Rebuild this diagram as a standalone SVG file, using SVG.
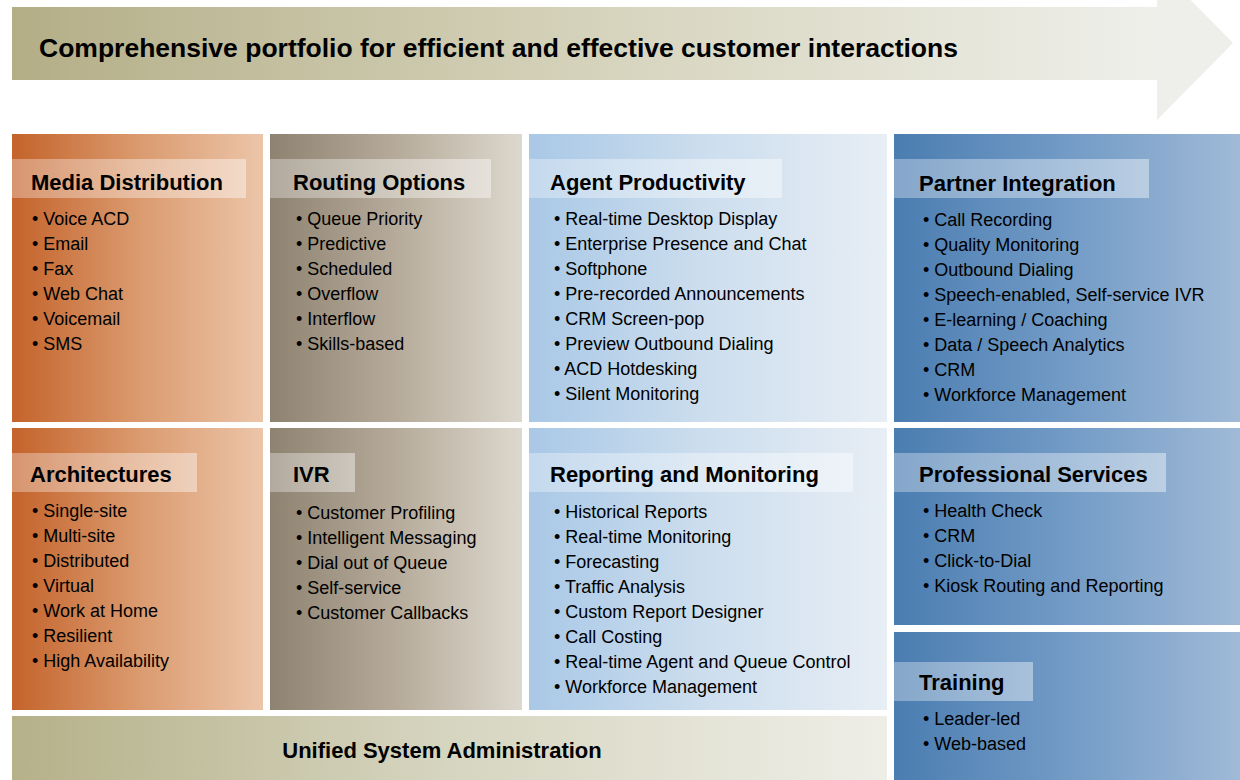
<svg xmlns="http://www.w3.org/2000/svg" width="1240" height="780" viewBox="0 0 1240 780">
<defs>
<linearGradient id="gBand" x1="0" y1="0" x2="1" y2="0">
<stop offset="0" stop-color="#b4ae87"/><stop offset="0.55" stop-color="#d8d6c0"/><stop offset="1" stop-color="#eeefea"/>
</linearGradient>
<linearGradient id="gOrange" x1="0" y1="0" x2="1" y2="0">
<stop offset="0" stop-color="#c4632b"/><stop offset="0.5" stop-color="#da9a6e"/><stop offset="1" stop-color="#ecc5a9"/>
</linearGradient>
<linearGradient id="gBrown" x1="0" y1="0" x2="1" y2="0">
<stop offset="0" stop-color="#8e8271"/><stop offset="0.5" stop-color="#b6ab9a"/><stop offset="1" stop-color="#ddd8ce"/>
</linearGradient>
<linearGradient id="gLight" x1="0" y1="0" x2="1" y2="0">
<stop offset="0" stop-color="#a9c8e6"/><stop offset="0.5" stop-color="#cddeee"/><stop offset="1" stop-color="#e7eef5"/>
</linearGradient>
<linearGradient id="gSteel" x1="0" y1="0" x2="1" y2="0">
<stop offset="0" stop-color="#4b7db1"/><stop offset="0.5" stop-color="#729bc6"/><stop offset="1" stop-color="#a0bad7"/>
</linearGradient>
<linearGradient id="gOlive" x1="0" y1="0" x2="1" y2="0">
<stop offset="0" stop-color="#b5b189"/><stop offset="0.5" stop-color="#d6d5c0"/><stop offset="1" stop-color="#eeeee7"/>
</linearGradient>
<linearGradient id="gStrip" x1="0" y1="0" x2="1" y2="0">
<stop offset="0" stop-color="#ffffff" stop-opacity="0.32"/><stop offset="1" stop-color="#ffffff" stop-opacity="0.42"/>
</linearGradient>
</defs>
<style>
.t{font-family:"Liberation Sans",Arial,sans-serif;fill:#000;}
.title{font-size:26px;font-weight:bold;}
.h{font-size:22px;font-weight:bold;}
.i{font-size:18px;}
.strip{fill:url(#gStrip);}
</style>
<rect width="1240" height="780" fill="#ffffff"/>

<g id="banner">
<polygon points="1157,-34 1233,43 1157,120" fill="#eeefea"/>
<rect x="12" y="7" width="1146" height="73" fill="url(#gBand)"/>
<text class="t title" x="39" y="57" textLength="919" lengthAdjust="spacingAndGlyphs">Comprehensive portfolio for efficient and effective customer interactions</text>
</g>

<g id="media-distribution">
<rect x="12" y="134" width="251" height="288" fill="url(#gOrange)"/>
<rect class="strip" x="12" y="159" width="234" height="39"/>
<text class="t h" x="31" y="190">Media Distribution</text>
<text class="t i" x="32" y="225">• Voice ACD</text>
<text class="t i" x="32" y="250">• Email</text>
<text class="t i" x="32" y="275">• Fax</text>
<text class="t i" x="32" y="300">• Web Chat</text>
<text class="t i" x="32" y="325">• Voicemail</text>
<text class="t i" x="32" y="350">• SMS</text>
</g>

<g id="routing-options">
<rect x="270" y="134" width="252" height="288" fill="url(#gBrown)"/>
<rect class="strip" x="270" y="159" width="221" height="39"/>
<text class="t h" x="293" y="190">Routing Options</text>
<text class="t i" x="296" y="225">• Queue Priority</text>
<text class="t i" x="296" y="250">• Predictive</text>
<text class="t i" x="296" y="275">• Scheduled</text>
<text class="t i" x="296" y="300">• Overflow</text>
<text class="t i" x="296" y="325">• Interflow</text>
<text class="t i" x="296" y="350">• Skills-based</text>
</g>

<g id="agent-productivity">
<rect x="529" y="134" width="358" height="288" fill="url(#gLight)"/>
<rect class="strip" x="529" y="159" width="253" height="39"/>
<text class="t h" x="550" y="190">Agent Productivity</text>
<text class="t i" x="554" y="225">• Real-time Desktop Display</text>
<text class="t i" x="554" y="250">• Enterprise Presence and Chat</text>
<text class="t i" x="554" y="275">• Softphone</text>
<text class="t i" x="554" y="300">• Pre-recorded Announcements</text>
<text class="t i" x="554" y="325">• CRM Screen-pop</text>
<text class="t i" x="554" y="350">• Preview Outbound Dialing</text>
<text class="t i" x="554" y="375">• ACD Hotdesking</text>
<text class="t i" x="554" y="400">• Silent Monitoring</text>
</g>

<g id="partner-integration">
<rect x="894" y="134" width="346" height="288" fill="url(#gSteel)"/>
<rect class="strip" x="894" y="159" width="255" height="39"/>
<text class="t h" x="919" y="191">Partner Integration</text>
<text class="t i" x="923" y="226">• Call Recording</text>
<text class="t i" x="923" y="251">• Quality Monitoring</text>
<text class="t i" x="923" y="276">• Outbound Dialing</text>
<text class="t i" x="923" y="301">• Speech-enabled, Self-service IVR</text>
<text class="t i" x="923" y="326">• E-learning / Coaching</text>
<text class="t i" x="923" y="351">• Data / Speech Analytics</text>
<text class="t i" x="923" y="376">• CRM</text>
<text class="t i" x="923" y="401">• Workforce Management</text>
</g>

<g id="architectures">
<rect x="12" y="428" width="251" height="282" fill="url(#gOrange)"/>
<rect class="strip" x="12" y="453" width="185" height="39"/>
<text class="t h" x="30" y="482">Architectures</text>
<text class="t i" x="32" y="517">• Single-site</text>
<text class="t i" x="32" y="542">• Multi-site</text>
<text class="t i" x="32" y="567">• Distributed</text>
<text class="t i" x="32" y="592">• Virtual</text>
<text class="t i" x="32" y="617">• Work at Home</text>
<text class="t i" x="32" y="642">• Resilient</text>
<text class="t i" x="32" y="667">• High Availability</text>
</g>

<g id="ivr">
<rect x="270" y="428" width="252" height="282" fill="url(#gBrown)"/>
<rect class="strip" x="270" y="453" width="85" height="39"/>
<text class="t h" x="293" y="482">IVR</text>
<text class="t i" x="296" y="519">• Customer Profiling</text>
<text class="t i" x="296" y="544">• Intelligent Messaging</text>
<text class="t i" x="296" y="569">• Dial out of Queue</text>
<text class="t i" x="296" y="594">• Self-service</text>
<text class="t i" x="296" y="619">• Customer Callbacks</text>
</g>

<g id="reporting-monitoring">
<rect x="529" y="428" width="358" height="282" fill="url(#gLight)"/>
<rect class="strip" x="529" y="453" width="324" height="39"/>
<text class="t h" x="550" y="482">Reporting and Monitoring</text>
<text class="t i" x="554" y="518">• Historical Reports</text>
<text class="t i" x="554" y="543">• Real-time Monitoring</text>
<text class="t i" x="554" y="568">• Forecasting</text>
<text class="t i" x="554" y="593">• Traffic Analysis</text>
<text class="t i" x="554" y="618">• Custom Report Designer</text>
<text class="t i" x="554" y="643">• Call Costing</text>
<text class="t i" x="554" y="668">• Real-time Agent and Queue Control</text>
<text class="t i" x="554" y="693">• Workforce Management</text>
</g>

<g id="professional-services">
<rect x="894" y="428" width="346" height="197" fill="url(#gSteel)"/>
<rect class="strip" x="894" y="453" width="272" height="39"/>
<text class="t h" x="919" y="482">Professional Services</text>
<text class="t i" x="923" y="517">• Health Check</text>
<text class="t i" x="923" y="542">• CRM</text>
<text class="t i" x="923" y="567">• Click-to-Dial</text>
<text class="t i" x="923" y="592">• Kiosk Routing and Reporting</text>
</g>

<g id="training">
<rect x="894" y="632" width="346" height="148" fill="url(#gSteel)"/>
<rect class="strip" x="894" y="662" width="139" height="39"/>
<text class="t h" x="919" y="690">Training</text>
<text class="t i" x="923" y="725">• Leader-led</text>
<text class="t i" x="923" y="750">• Web-based</text>
</g>

<g id="unified-system-administration">
<rect x="12" y="716" width="875" height="64" fill="url(#gOlive)"/>
<text class="t h" x="442" y="758" text-anchor="middle">Unified System Administration</text>
</g>

<g id="connectors"/>
</svg>
